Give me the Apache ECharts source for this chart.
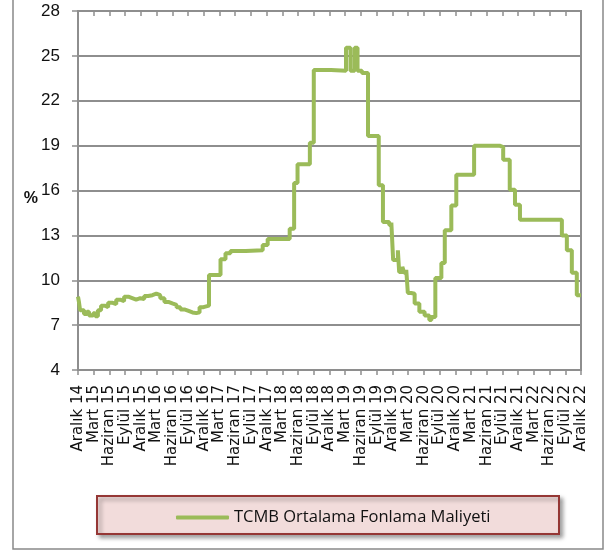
<!DOCTYPE html>
<html>
<head>
<meta charset="utf-8">
<script src="https://cdn.jsdelivr.net/npm/echarts@6/dist/echarts.min.js"></script>
<style>html,body{margin:0;padding:0;background:#fff}#c{width:607px;height:553px}</style>
</head>
<body>
<div id="c"></div>
<script>
// Tick labels (every 3 months, Aralık 2014 .. Aralık 2022)
var tickLabels = ['Aralık 14','Mart 15','Haziran 15','Eylül 15','Aralık 15','Mart 16','Haziran 16','Eylül 16',
  'Aralık 16','Mart 17','Haziran 17','Eylül 17','Aralık 17','Mart 18','Haziran 18','Eylül 18',
  'Aralık 18','Mart 19','Haziran 19','Eylül 19','Aralık 19','Mart 20','Haziran 20','Eylül 20',
  'Aralık 20','Mart 21','Haziran 21','Eylül 21','Aralık 21','Mart 22','Haziran 22','Eylül 22','Aralık 22'];
var seriesName = 'TCMB Ortalama Fonlama Maliyeti';
// Months since Aralık 2014 at which the rate changes
var months = [0,0.2,0.4,1.15,1.7,2.1,2.9,3.3,3.8,4.4,5.2,5.75,6.5,7.3,8.05,8.8,9.6,10.35,11.1,11.9,12.65,13.4,14.2,14.95,
  15.7,16.5,17.25,18.0,18.8,19.55,20.3,21.1,21.85,22.6,23.2,23.95,25.0,27.2,28.15,29.1,32,35.25,36.2,40.4,41.25,41.9,
  44.25,45.0,48.3,51.15,52.0,52.8,53.35,54.2,55.35,57.4,58.2,59.4,59.8,60.15,61.05,61.3,61.9,62.25,62.65,62.95,63.6,
  64.25,65.15,66.15,67.05,67.45,68.2,69.35,70.0,71.25,72.2,75.6,80.45,81.15,82.4,83.4,84.35,92.35,93.3,94.25,95.2,96];
// Rate (%) from that month onward
var rates = [8.9,8.5,8.0,7.75,7.9,7.65,7.8,7.6,8.0,8.3,8.2,8.5,8.4,8.7,8.6,8.9,8.8,8.7,8.8,8.75,8.95,9.0,9.1,9.0,
  8.8,8.55,8.45,8.35,8.2,8.05,7.95,7.85,7.8,7.85,8.2,8.3,10.35,11.4,11.8,11.95,12.0,12.35,12.75,13.45,16.5,17.75,
  19.2,24.05,24.0,25.55,24.0,25.55,24.0,23.85,19.65,16.35,13.9,13.7,13.85,11.35,12.0,10.55,10.9,10.5,10.7,9.15,9.1,
  8.45,7.9,7.65,7.35,7.55,10.15,11.15,13.35,15.0,17.05,19.0,18.9,18.05,16.05,15.05,14.05,13.0,12.0,10.5,9.0,9.0];

var data = months.map(function (m, i) { return [m, rates[i]]; });
var chart = echarts.init(document.getElementById('c'));
var gridCol = '#8e8e8e';
var xBase = {
  type: 'value', min: 0, max: 96, interval: 3, gridIndex: 0
};
chart.setOption({
  backgroundColor: '#fff',
  animation: false,
  grid: { left: 78, right: 26, top: 11, bottom: 183, show: true, borderColor: gridCol, borderWidth: 2 },
  graphic: [
    { type: 'rect', z: 0, shape: { x: 13, y: -5, width: 590, height: 554 },
      style: { fill: 'none', stroke: '#898989', lineWidth: 1.5 } },
    { type: 'rect', z: 0, shape: { x: 97, y: 496, width: 462, height: 38 },
      style: { fill: '#f2dcdb', stroke: '#953735', lineWidth: 2,
        shadowBlur: 4, shadowOffsetX: 3, shadowOffsetY: 3, shadowColor: 'rgba(0,0,0,0.35)' } }
  ],
  legend: {
    z: 10, left: 171, top: 504, itemWidth: 53, itemHeight: 4, itemGap: 4,
    textStyle: { fontFamily: 'Open Sans', fontSize: 16.5, color: '#111' },
    data: [{ name: seriesName, icon: 'roundRect' }]
  },
  xAxis: [
    Object.assign({}, xBase, {
      axisLine: { show: true, lineStyle: { color: gridCol, width: 2 } },
      axisTick: { show: true, length: 5, lineStyle: { color: gridCol, width: 1.5 } },
      splitLine: { show: false },
      axisLabel: { rotate: 90, margin: 15, fontFamily: 'DejaVu Sans', fontSize: 15, lineHeight: 14, color: '#111',
        hideOverlap: false, showMinLabel: true, showMaxLabel: true,
        formatter: function (v) { return tickLabels[Math.round(v / 3)] || ''; } }
    }),
    Object.assign({}, xBase, {
      axisLine: { show: false },
      axisTick: { show: true, inside: true, length: 5, lineStyle: { color: gridCol, width: 1.5 } },
      splitLine: { show: false },
      axisLabel: { show: false }
    })
  ],
  yAxis: {
    type: 'value', min: 4, max: 28, interval: 3,
    name: '%', nameLocation: 'middle', nameRotate: 0, nameGap: 40, nameMoveOverlap: false,
    nameTextStyle: { fontFamily: 'Liberation Sans', fontSize: 16, fontWeight: 'bold', color: '#111', verticalAlign: 'top' },
    axisLine: { show: true, lineStyle: { color: gridCol, width: 2 } },
    axisTick: { show: true, length: 6, lineStyle: { color: gridCol, width: 1.5 } },
    splitLine: { show: true, lineStyle: { color: gridCol, width: 2 } },
    axisLabel: { margin: 18, fontFamily: 'Liberation Sans', fontSize: 17, color: '#111' }
  },
  series: [{
    name: seriesName, type: 'line', step: 'end', xAxisIndex: 0, data: data,
    symbol: 'none', showSymbol: false,
    lineStyle: { color: '#9bbb59', width: 4 }, itemStyle: { color: '#9bbb59' }
  }]
});
</script>
</body>
</html>
